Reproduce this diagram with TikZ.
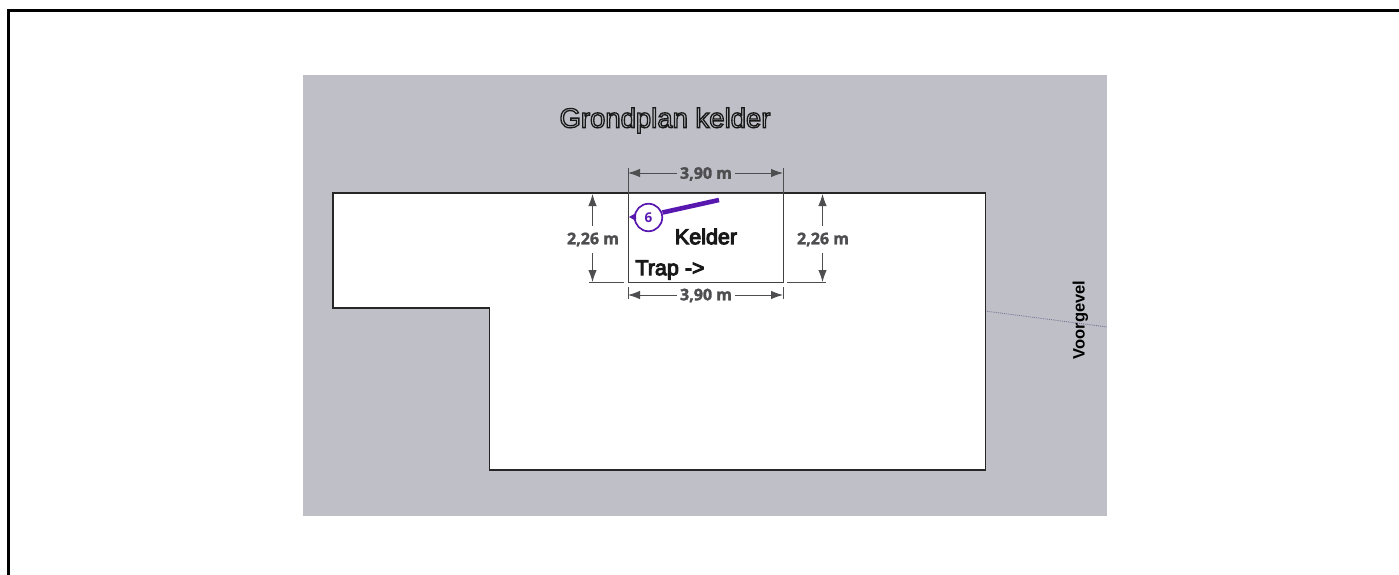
\documentclass[tikz,border=0pt]{standalone}
\usepackage{fontspec}
\setmainfont{Liberation Sans}
\newfontfamily\dimfont{Open Sans}
\usetikzlibrary{arrows.meta}
\definecolor{bggray}{RGB}{191,191,199}
\definecolor{dimgray}{RGB}{78,78,80}
\definecolor{callout}{RGB}{88,24,176}
\definecolor{dotline}{RGB}{120,115,150}
\newcommand{\outlinetext}[1]{\special{pdf:code #1}}
\tikzset{
  x=1pt,y=-1pt,
  wall/.style={draw=black!85,line width=1.5pt,line join=miter},
  dimline/.style={draw=dimgray,line width=.9pt,{Latex[length=12pt,width=8.5pt]}-},
  extline/.style={draw=dimgray,line width=.8pt},
  dimlabel/.style={inner sep=0pt,text=dimgray,font=\dimfont\bfseries\fontsize{16}{18}\selectfont},
  plaintext/.style={inner sep=0pt,text=black!90},
}
\begin{document}
\begin{tikzpicture}
\useasboundingbox (0,0) rectangle (1399,575);
\fill[white] (0,0) rectangle (1399,575);
\draw[black,line width=3.4pt] (8.7,575) -- (8.7,10.7) -- (1399,10.7);
\fill[bggray] (303,75) rectangle (1107,516);
% dotted front line
\coordinate (dotA) at (985,311);
\coordinate (dotB) at (1107,327);
\draw[dotline,line width=.9pt,densely dotted] (dotA) -- (dotB);
% building
\draw[wall,fill=white] (333,193) -- (985.5,193) -- (985.5,470) -- (489.5,470) -- (489.5,308) -- (333,308) -- cycle;
% cellar
\draw[black!75,line width=.9pt] (628,193) rectangle (783,282);
% extension lines
\coordinate (tl) at (628,168); \coordinate (tlb) at (628,193);
\coordinate (tr) at (783,168); \coordinate (trb) at (783,193);
\coordinate (bl) at (628,287); \coordinate (blb) at (628,299);
\coordinate (br) at (783,287); \coordinate (brb) at (783,299);
\draw[extline] (tl) -- (tlb);
\draw[extline] (tr) -- (trb);
\draw[extline] (bl) -- (blb);
\draw[extline] (br) -- (brb);
\coordinate (la) at (589,282); \coordinate (lb) at (624,282);
\coordinate (ra) at (787,282); \coordinate (rb) at (826,282);
\draw[extline] (la) -- (lb);
\draw[extline] (ra) -- (rb);
% dimensions
\node[dimlabel] (dimT) at (706,174) {\outlinetext{2 Tr 0.3 w}3,90 m};
\node[dimlabel] (dimB) at (706,295.5) {\outlinetext{2 Tr 0.3 w}3,90 m};
\node[dimlabel] (dimL) at (593,239.5) {\outlinetext{2 Tr 0.3 w}2,26 m};
\node[dimlabel] (dimR) at (823,239.5) {\outlinetext{2 Tr 0.3 w}2,26 m};
\coordinate (dtl) at (628,173); \coordinate (dtr) at (783,173);
\coordinate (dbl) at (628,295); \coordinate (dbr) at (783,295);
\coordinate (dlt) at (592.5,194); \coordinate (dlb) at (592.5,282);
\coordinate (drt) at (822.5,194); \coordinate (drb) at (822.5,282);
\draw[dimline] (dtl) -- ([xshift=-3pt]dimT.west|-dtl);
\draw[dimline] (dtr) -- ([xshift=3pt]dimT.east|-dtr);
\draw[dimline] (dbl) -- ([xshift=-3pt]dimB.west|-dbl);
\draw[dimline] (dbr) -- ([xshift=3pt]dimB.east|-dbr);
\draw[dimline] (dlt) -- ([yshift=6pt]dimL.north-|dlt);
\draw[dimline] (dlb) -- ([yshift=-6pt]dimL.south-|dlb);
\draw[dimline] (drt) -- ([yshift=6pt]dimR.north-|drt);
\draw[dimline] (drb) -- ([yshift=-6pt]dimR.south-|drb);
% callout
\coordinate (ctip) at (629,217);
\coordinate (cend) at (719,200);
\node[circle,draw=callout,fill=white,line width=1.7pt,minimum size=27.5pt,inner sep=0pt,text=callout,font=\dimfont\bfseries\fontsize{13.5}{14}\selectfont] (six) at (648.5,217.5) {6};
\draw[callout,line width=4.6pt] (six) ++(14,-5) -- (cend);
\fill[callout] (ctip) -- (636,213) -- (636,221) -- cycle;
% texts
\node[plaintext] (title) at (665,120.5) {\fontsize{27.5}{30}\selectfont\outlinetext{1 Tr 1.3 w}Grondplan kelder};
\node[plaintext] (kelder) at (706,236.5) {\fontsize{21.5}{24}\selectfont\outlinetext{2 Tr 1 w}Kelder};
\node[plaintext] (trap) at (670,270) {\fontsize{21.5}{24}\selectfont\outlinetext{2 Tr 1 w}Trap ->};
\node[plaintext,rotate=90,text=black] (voor) at (1080.5,320) {\bfseries\fontsize{16.5}{20}\selectfont Voorgevel};
\end{tikzpicture}
\end{document}
